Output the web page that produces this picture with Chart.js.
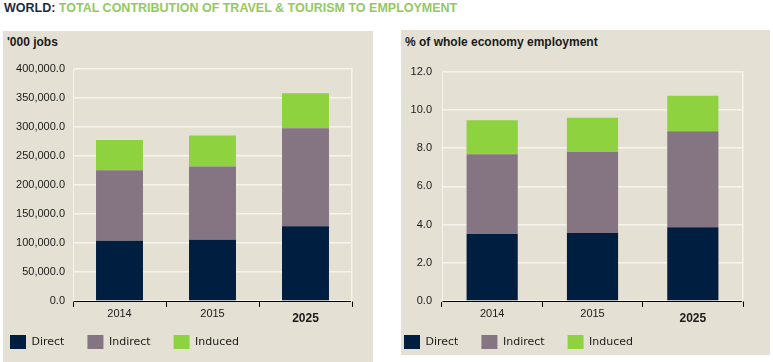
<!DOCTYPE html>
<html>
<head>
<meta charset="utf-8">
<script src="https://cdn.jsdelivr.net/npm/chart.js@4.4.1/dist/chart.umd.min.js"></script>
<style>
  html, body { margin: 0; padding: 0; background: #ffffff; width: 773px; height: 362px; overflow: hidden; position: relative; }
  .title { position: absolute; left: 4px; top: 0px; font: bold 12.5px "Liberation Sans", Arial, sans-serif; color: #1c2b4b; white-space: nowrap; line-height: 16px; }
  .title span { color: #93c95f; }
  .panel { position: absolute; background: #e5e0d4; }
  .hdr { position: absolute; font: bold 12px "Liberation Sans", Arial, sans-serif; color: #1a1a1a; white-space: nowrap; }
  canvas { position: absolute; }
</style>
</head>
<body>
<div class="title">WORLD: <span>TOTAL CONTRIBUTION OF TRAVEL &amp; TOURISM TO EMPLOYMENT</span></div>
<div class="panel" style="left:3px;top:31px;width:370px;height:331px;"></div>
<div class="panel" style="left:401px;top:30px;width:369px;height:325px;"></div>
<div class="hdr" style="left:7px;top:35px;">'000 jobs</div>
<div class="hdr" style="left:405px;top:35px;">% of whole economy employment</div>
<canvas id="c1" width="386" height="343" style="left:-13px;top:31px;"></canvas>
<canvas id="c2" width="389" height="343" style="left:381px;top:31px;"></canvas>
<script>
// ---- data ----
const categories = ['2014', '2015', '2025'];
const seriesNames = ['Direct', 'Indirect', 'Induced'];
// '000 jobs
const jobsDirect   = [104000, 105600, 128700];
const jobsIndirect = [121500, 126200, 169200];
const jobsInduced  = [52000, 53400, 60100];
// % of whole economy employment
const pctDirect   = [3.50, 3.55, 3.85];
const pctIndirect = [4.17, 4.24, 5.03];
const pctInduced  = [1.78, 1.79, 1.85];
const jobsTicks = { min: 0, max: 400000, step: 50000 };
const pctTicks  = { min: 0, max: 12, step: 2 };

const colors = ['#001e3f', '#857583', '#8ed23f'];
const gridColor = '#f6f3ec';
const tickFont = { family: '"Liberation Sans", Arial, sans-serif', size: 11 };

function makeChart(id, values, ticks, fmt, o) {
  const datasets = values.map((v, i) => ({
    label: seriesNames[i],
    data: v,
    backgroundColor: colors[i],
    borderWidth: 0,
    categoryPercentage: 1.0,
    barPercentage: o.barPct
  }));
  const legendShift = {
    id: 'legendShift',
    afterLayout(chart) {
      if (chart.legend) { chart.legend.top -= o.legendUp; chart.legend.bottom -= o.legendUp; }
    }
  };
  return new Chart(document.getElementById(id), {
    type: 'bar',
    data: { labels: categories, datasets },
    plugins: [legendShift],
    options: {
      responsive: false,
      animation: false,
      devicePixelRatio: 1,
      layout: { padding: { top: o.top, right: o.right, left: 0, bottom: 0 } },
      plugins: {
        tooltip: { enabled: false },
        legend: {
          position: 'bottom',
          align: 'start',
          labels: {
            boxWidth: 16,
            boxHeight: 14,
            padding: 23,
            color: '#1a1a1a',
            font: { family: '"DejaVu Sans", Tahoma, sans-serif', size: 11 }
          }
        }
      },
      scales: {
        x: {
          stacked: true,
          offset: true,
          border: { display: true, color: '#000000', width: 1 },
          grid: { display: true, drawOnChartArea: false, drawTicks: true, tickLength: 6, color: '#000000', offset: true },
          ticks: {
            color: '#1a1a1a',
            padding: 0,
            font: (ctx) => ctx.index === 2
              ? { family: tickFont.family, size: 12, weight: 'bold', lineHeight: 1.9 }
              : { family: tickFont.family, size: 11, lineHeight: 1.2 }
          },
          afterFit: (s) => { s.height = o.xH; }
        },
        y: {
          stacked: true,
          min: ticks.min,
          max: ticks.max,
          border: { display: true, color: gridColor, width: 1 },
          grid: { color: gridColor, lineWidth: 1.5, drawTicks: false },
          ticks: { stepSize: ticks.step, color: '#1a1a1a', padding: o.tickPad, font: tickFont, callback: fmt },
          afterFit: (s) => { s.width = o.yW; }
        },
        y2: {
          position: 'right',
          min: ticks.min,
          max: ticks.max,
          border: { display: true, color: gridColor, width: 1.5 },
          grid: { display: false },
          ticks: { display: false },
          afterFit: (s) => { s.width = 0; }
        }
      }
    }
  });
}

const nf = new Intl.NumberFormat('en-US', { minimumFractionDigits: 1, maximumFractionDigits: 1 });
makeChart('c1', [jobsDirect, jobsIndirect, jobsInduced], jobsTicks, (v) => nf.format(v),
  { barPct: 0.505, top: 38, right: 21, xH: 26, legendUp: 15, yW: 86, tickPad: 8 });
makeChart('c2', [pctDirect, pctIndirect, pctInduced], pctTicks, (v) => v.toFixed(1),
  { barPct: 0.51, top: 40.5, right: 27, xH: 26, legendUp: 15, yW: 61, tickPad: 10 });
</script>
</body>
</html>
